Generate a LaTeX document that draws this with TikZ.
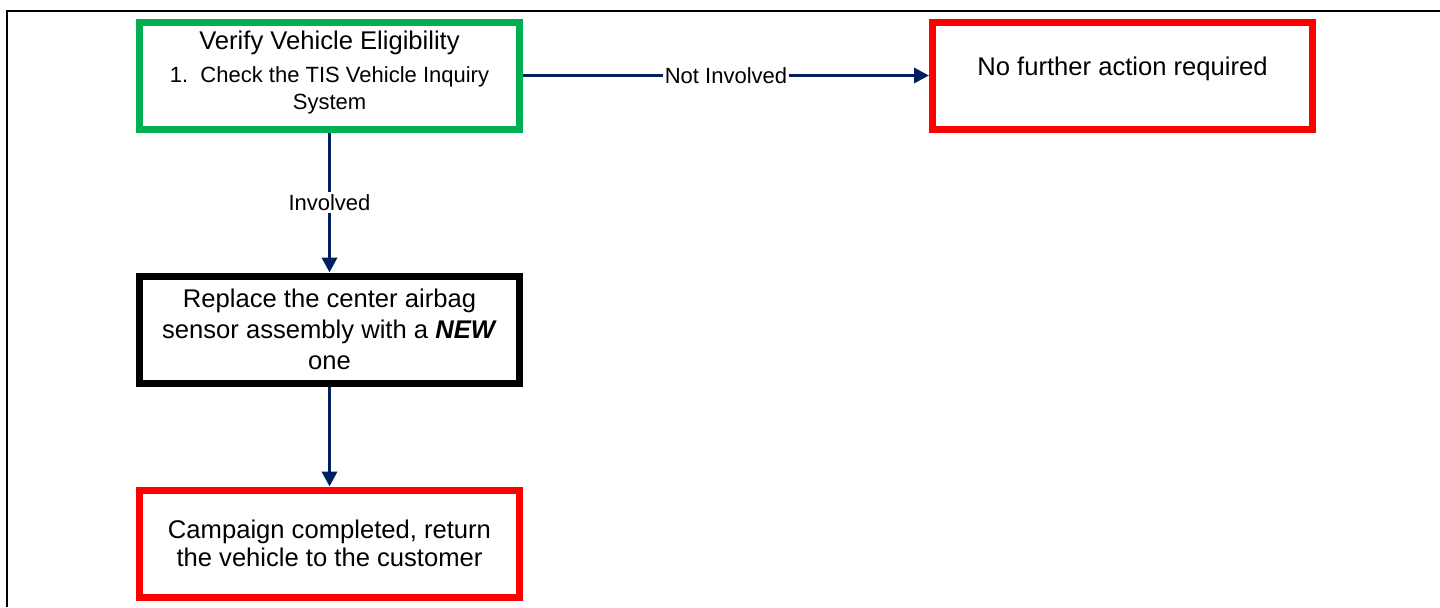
\documentclass[tikz,border=0pt]{standalone}
\usepackage{fontspec}
\setmainfont{Liberation Sans}
\usepackage{tikz}
\usetikzlibrary{arrows.meta,positioning,shadows}
\definecolor{flowgreen}{RGB}{0,176,80}
\definecolor{flowred}{RGB}{255,0,0}
\definecolor{flownavy}{RGB}{0,32,96}
\newcommand{\subtxt}{\fontsize{11pt}{12.5pt}\selectfont}

\begin{document}
\begin{tikzpicture}[
  flowbox/.style={draw, line width=3.5pt, fill=white, align=center, minimum width=190pt, minimum height=53.5pt, inner sep=0pt,
    font=\fontsize{12.8pt}{15.5pt}\selectfont,
    drop shadow={shadow xshift=0.6pt, shadow yshift=-0.6pt, opacity=0.25, fill=blue!20}},
  arr/.style={-{Triangle[length=7.5pt,width=7.5pt]}, line width=1.75pt, flownavy},
  lbl/.style={fill=white, inner sep=1pt, font=\subtxt, text=black}]
\useasboundingbox (0,0) rectangle (720pt,-303.5pt);
\draw[line width=1pt] (3.5pt,-303.5pt) -- (3.5pt,-5.5pt) -- (720pt,-5.5pt);
\node[flowbox, draw=flowgreen, text depth=5pt] (verify) at (164.75pt,-37.75pt)
  {Verify Vehicle Eligibility\\[1pt]{\subtxt 1.\ \ Check the TIS Vehicle Inquiry}\\[-2pt]{\subtxt System}};
\node[flowbox, draw=flowred, text depth=9pt, right=203pt of verify] (noaction) {No further action required};
\node[flowbox, draw=black, below=70pt of verify] (replace)
  {Replace the center airbag\\sensor assembly with a \textbf{\textit{NEW}}\\one};
\node[flowbox, draw=flowred, below=50pt of replace] (done)
  {Campaign completed, return\\[-1.5pt]the vehicle to the customer};
\draw[arr] (verify) -- node[lbl] {Not Involved} (noaction);
\draw[arr] (verify) -- node[lbl] {Involved} (replace);
\draw[arr] (replace) -- (done);
\end{tikzpicture}
\end{document}
